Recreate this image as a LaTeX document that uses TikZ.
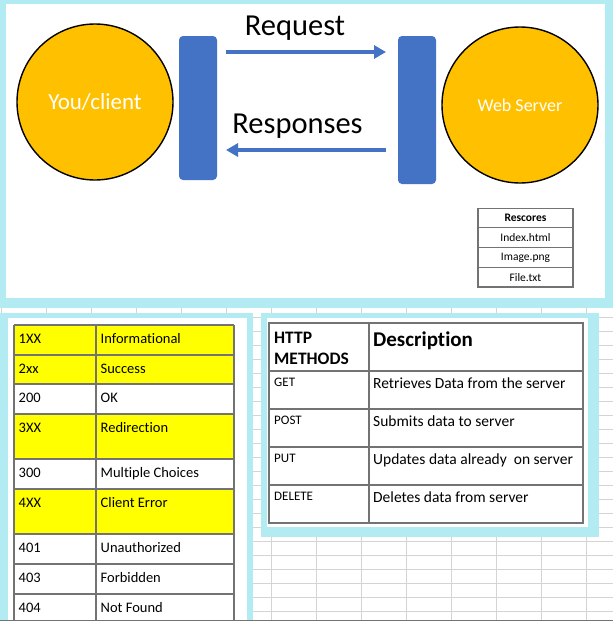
\documentclass[tikz,border=0pt]{standalone}
\usepackage{fontspec}
\setmainfont{Carlito}[Ligatures={NoCommon,NoRare}]
\usetikzlibrary{arrows.meta}
\definecolor{panelcyan}{RGB}{178,235,242}
\definecolor{sunorange}{RGB}{255,192,0}
\definecolor{barblue}{RGB}{68,114,196}
\definecolor{gridgray}{RGB}{212,212,212}
\definecolor{tabgray}{RGB}{115,115,115}
\definecolor{hiyellow}{RGB}{255,255,0}
\tikzset{
  gridline/.style={gridgray, line width=0.9pt},
  tabline/.style={tabgray, line width=1.3pt},
  orb/.style={circle, draw=black, line width=1.4pt, fill=sunorange, minimum size=156pt, inner sep=0pt, text=white},
  blockbar/.style={rectangle, rounded corners=4pt, fill=barblue, minimum width=38pt, inner sep=0pt},
  flow/.style={barblue, line width=4pt, -{Triangle[length=12pt,width=13pt]}},
  biglabel/.style={anchor=base, inner sep=0pt, font=\fontsize{30.5}{36}\selectfont},
  codecell/.style={anchor=base west, inner sep=0pt, font=\fontsize{14.5}{17}\selectfont},
  methcell/.style={anchor=base west, inner sep=0pt, font=\fontsize{13}{15}\selectfont},
  desccell/.style={anchor=base west, inner sep=0pt, font=\fontsize{15.5}{18}\selectfont},
  rescell/.style={rectangle, draw=tabgray, line width=1.1pt, minimum width=95pt, minimum height=19.7pt, inner sep=0pt, font=\fontsize{11.5}{13}\selectfont}
}
\begin{document}
\begin{tikzpicture}[x=1pt,y=-1pt]
\useasboundingbox (0,0) rectangle (613,621);
\fill[white] (0,0) rectangle (613,621);
% spreadsheet grid
\foreach \gx in {1,46,...,586} \draw[gridline] (\gx,308) -- (\gx,621);
\foreach \gy in {303,317,...,611} \draw[gridline] (0,\gy) -- (613,\gy);
% panels
\fill[panelcyan] (0,0) rectangle (613,308);
\fill[white] (6,4) rectangle (605,298);
\fill[panelcyan] (0,313) rectangle (253,621);
\fill[white] (8,318) rectangle (247,621);
\fill[panelcyan] (261,313) rectangle (599,537);
\fill[white] (267,318) rectangle (588,527);
\draw[tabgray, line width=1pt] (0,620.5) -- (613,620.5);

% top diagram
\node[orb, font=\fontsize{23}{27}\selectfont] (client) at (95,102) {You/client};
\node[orb, font=\fontsize{18}{21}\selectfont] (server) at (520,105) {Web Server};
\node[blockbar, minimum height=144pt] (lbar) at (198,108) {};
\node[blockbar, minimum height=148pt] (rbar) at (417,110) {};
\coordinate (reqstart) at (226,52);
\coordinate (reqend) at (386,52);
\coordinate (resstart) at (386,150);
\coordinate (resend) at (226,150);
\draw[flow] (reqstart) -- (reqend);
\draw[flow] (resstart) -- (resend);
\node[biglabel] (reqlbl) at (295,35) {Request};
\node[biglabel] (reslbl) at (297.5,133) {Responses};

% resources table
\node[rescell, font=\bfseries\fontsize{11.5}{13}\selectfont] (res0) at (525.5,218) {Rescores};
\node[rescell] (res1) at (525.5,237.7) {Index.html};
\node[rescell] (res2) at (525.5,257.4) {Image.png};
\node[rescell] (res3) at (525.5,277.1) {File.txt};

% status code table
\fill[hiyellow] (14,325) rectangle (234,384);
\fill[hiyellow] (14,414) rectangle (234,459);
\fill[hiyellow] (14,489) rectangle (234,534);
\foreach \tx in {14,96,234} \draw[tabline] (\tx,325) -- (\tx,621);
\foreach \ty in {325,355,384,414,459,489,534,564,594} \draw[tabline] (14,\ty) -- (234,\ty);
\node[codecell] (k1) at (18.5,343) {1XX};
\node[codecell] (v1) at (100.5,343) {Informational};
\node[codecell] (k2) at (18.5,373) {2xx};
\node[codecell] (v2) at (100.5,373) {Success};
\node[codecell] (k3) at (18.5,402) {200};
\node[codecell] (v3) at (100.5,402) {OK};
\node[codecell] (k4) at (18.5,432) {3XX};
\node[codecell] (v4) at (100.5,432) {Redirection};
\node[codecell] (k5) at (18.5,477) {300};
\node[codecell] (v5) at (100.5,477) {Multiple Choices};
\node[codecell] (k6) at (18.5,507) {4XX};
\node[codecell] (v6) at (100.5,507) {Client Error};
\node[codecell] (k7) at (18.5,552) {401};
\node[codecell] (v7) at (100.5,552) {Unauthorized};
\node[codecell] (k8) at (18.5,582) {403};
\node[codecell] (v8) at (100.5,582) {Forbidden};
\node[codecell] (k9) at (18.5,612) {404};
\node[codecell] (v9) at (100.5,612) {Not Found};

% HTTP methods table
\draw[tabline] (269,323) rectangle (583,523);
\draw[tabline] (369,323) -- (369,523);
\foreach \ty in {371,409,447,485} \draw[tabline] (269,\ty) -- (583,\ty);
\node[anchor=base west, inner sep=0pt, font=\bfseries\fontsize{17.5}{20}\selectfont] (mh1) at (274,343) {HTTP};
\node[anchor=base west, inner sep=0pt, font=\bfseries\fontsize{17.5}{20}\selectfont] (mh2) at (274,364) {METHODS};
\node[anchor=base west, inner sep=0pt, font=\bfseries\fontsize{21}{24}\selectfont] (dh) at (373,346) {Description};
\node[methcell] (m1) at (274,386) {GET};
\node[desccell] (d1) at (373,388) {Retrieves Data from the server};
\node[methcell] (m2) at (274,424) {POST};
\node[desccell] (d2) at (373,426) {Submits data to server};
\node[methcell] (m3) at (274,462) {PUT};
\node[desccell] (d3) at (373,464) {Updates data already\ \ on server};
\node[methcell] (m4) at (274,500) {DELETE};
\node[desccell] (d4) at (373,502) {Deletes data from server};
\end{tikzpicture}
\end{document}
